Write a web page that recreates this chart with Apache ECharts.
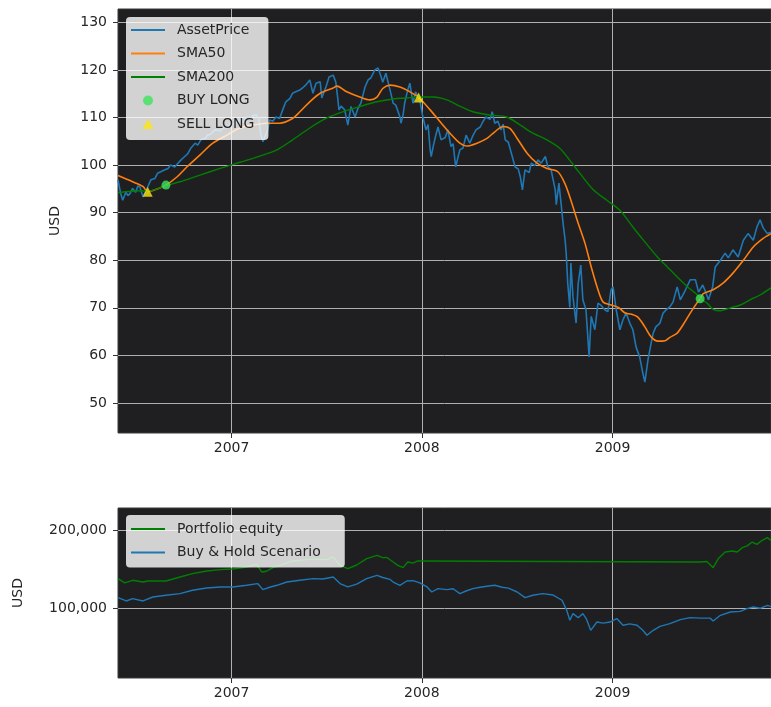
<!DOCTYPE html>
<html>
<head>
<meta charset="utf-8">
<script src="https://cdn.jsdelivr.net/npm/echarts@6/dist/echarts.min.js"></script>
<style>
  html, body { margin: 0; padding: 0; background: #ffffff; }
  #chart { width: 771px; height: 707px; }
</style>
</head>
<body>
<div id="chart"></div>
<script>
// Asset price (USD), sampled roughly weekly
const assetPrice = [
['2006-05-28',96.9],['2006-06-02',94.1],['2006-06-06',92.6],['2006-06-12',94.3],['2006-06-16',93.6],['2006-06-20',94.0],['2006-06-25',95.1],['2006-07-01',94.3],['2006-07-05',95.6],['2006-07-09',95.4],['2006-07-15',93.3],['2006-07-18',94.0],['2006-07-24',95.4],['2006-07-30',96.9],['2006-08-07',97.2],['2006-08-12',98.3],['2006-08-18',98.6],['2006-08-26',99.0],['2006-09-01',99.3],['2006-09-06',100.0],['2006-09-14',99.6],['2006-09-20',100.4],['2006-09-26',101.1],['2006-10-03',101.8],['2006-10-09',102.4],['2006-10-15',103.6],['2006-10-23',104.6],['2006-10-28',104.2],['2006-11-03',105.3],['2006-11-11',105.6],['2006-11-16',106.3],['2006-11-22',106.5],['2006-11-30',107.4],['2006-12-10',107.2],['2006-12-17',107.9],['2006-12-23',107.8],['2006-12-29',108.6],
['2007-01-07',108.8],['2007-01-17',109.5],['2007-01-24',109.0],['2007-01-30',110.1],['2007-02-07',110.0],['2007-02-12',110.5],['2007-02-18',110.5],['2007-02-22',109.8],['2007-02-26',106.5],['2007-03-02',104.9],['2007-03-06',106.0],['2007-03-11',107.3],['2007-03-15',109.5],['2007-03-21',109.2],['2007-03-27',110.1],['2007-04-03',109.8],['2007-04-09',111.6],['2007-04-15',113.3],['2007-04-23',114.0],['2007-04-28',115.1],['2007-05-04',115.4],['2007-05-12',115.8],['2007-05-17',116.2],['2007-05-23',116.8],['2007-05-31',117.9],['2007-06-06',115.1],['2007-06-12',117.2],['2007-06-20',117.5],['2007-06-23',114.1],['2007-07-01',116.4],['2007-07-07',118.5],['2007-07-15',118.9],['2007-07-20',117.4],['2007-07-24',113.7],['2007-07-26',111.6],['2007-07-30',112.4],['2007-08-06',111.6],['2007-08-12',108.4],['2007-08-18',112.3],['2007-08-26',110.1],['2007-08-31',111.8],['2007-09-06',113.0],['2007-09-14',116.4],['2007-09-20',117.9],['2007-09-25',118.3],['2007-10-03',120.0],['2007-10-09',120.4],['2007-10-15',118.5],['2007-10-18',117.4],['2007-10-24',119.3],['2007-11-01',115.8],['2007-11-07',113.0],['2007-11-12',112.6],['2007-11-20',110.1],['2007-11-22',108.8],['2007-11-26',110.5],['2007-11-29',113.0],['2007-12-05',115.8],['2007-12-09',117.2],['2007-12-15',113.0],['2007-12-20',115.4],['2007-12-24',114.6],['2007-12-28',113.7],
['2008-01-03',110.1],['2008-01-09',107.4],['2008-01-13',108.5],['2008-01-17',103.2],['2008-01-19',101.8],['2008-01-23',104.0],['2008-01-27',105.9],['2008-02-01',108.0],['2008-02-07',105.3],['2008-02-15',105.8],['2008-02-20',107.4],['2008-02-26',103.9],['2008-03-01',104.5],['2008-03-06',99.6],['2008-03-10',101.5],['2008-03-14',103.2],['2008-03-20',103.6],['2008-03-26',106.3],['2008-04-02',104.6],['2008-04-08',106.2],['2008-04-14',107.4],['2008-04-22',108.0],['2008-04-27',109.1],['2008-05-03',110.1],['2008-05-11',109.6],['2008-05-15',111.2],['2008-05-20',108.8],['2008-05-26',109.2],['2008-06-01',107.4],['2008-06-05',108.6],['2008-06-09',105.3],['2008-06-15',104.8],['2008-06-20',102.8],['2008-06-28',99.6],['2008-07-04',99.2],['2008-07-08',97.5],['2008-07-12',94.8],['2008-07-17',99.0],['2008-07-25',98.4],['2008-07-29',100.4],['2008-08-05',99.9],['2008-08-11',101.1],['2008-08-17',100.4],['2008-08-25',101.8],['2008-08-30',99.6],['2008-09-05',99.0],['2008-09-13',94.8],['2008-09-15',91.7],['2008-09-20',96.2],['2008-09-24',92.1],['2008-09-28',87.8],['2008-10-02',84.2],['2008-10-04',81.5],['2008-10-07',75.1],['2008-10-11',70.1],['2008-10-13',79.4],['2008-10-17',72.3],['2008-10-23',66.8],['2008-10-27',75.1],['2008-11-01',79.0],['2008-11-05',71.7],['2008-11-11',69.6],['2008-11-17',59.7],['2008-11-21',68.2],['2008-11-28',65.4],['2008-12-04',71.0],['2008-12-10',70.5],['2008-12-17',69.6],['2008-12-23',69.2],['2008-12-29',73.8],
['2009-01-02',74.4],['2009-01-08',69.6],['2009-01-15',65.4],['2009-01-21',67.5],['2009-01-27',68.9],['2009-02-03',66.8],['2009-02-09',65.4],['2009-02-15',61.8],['2009-02-22',59.7],['2009-02-28',56.3],['2009-03-04',54.4],['2009-03-10',59.1],['2009-03-16',62.6],['2009-03-20',64.7],['2009-03-25',66.0],['2009-04-02',66.8],['2009-04-08',68.9],['2009-04-14',69.6],['2009-04-21',70.2],['2009-04-27',71.2],['2009-05-05',74.4],['2009-05-11',71.7],['2009-05-21',73.8],['2009-05-30',75.9],['2009-06-09',75.9],['2009-06-15',73.3],['2009-06-23',74.8],['2009-06-28',73.5],['2009-07-04',71.7],['2009-07-12',74.4],['2009-07-17',78.6],['2009-07-27',80.0],['2009-08-05',81.5],['2009-08-11',80.5],['2009-08-20',82.2],['2009-08-30',80.7],['2009-09-09',84.2],['2009-09-18',85.6],['2009-09-28',84.2],['2009-10-05',87.0],['2009-10-11',88.5],['2009-10-17',86.8],['2009-10-25',85.6],['2009-11-01',85.9]
];

// 50-day simple moving average
const sma50 = [
['2006-05-28',97.8],['2006-06-25',96.5],['2006-07-15',95.5],['2006-07-24',94.4],['2006-08-16',95.2],['2006-08-28',95.8],['2006-09-18',97.5],['2006-10-07',99.6],['2006-11-01',102.1],['2006-11-26',104.6],['2006-12-23',106.3],
['2007-01-17',107.8],['2007-02-10',108.4],['2007-03-09',108.8],['2007-04-03',108.8],['2007-04-28',109.8],['2007-05-12',111.2],['2007-05-31',113.3],['2007-06-20',115.1],['2007-07-15',116.2],['2007-07-22',116.6],['2007-08-10',115.4],['2007-09-04',114.3],['2007-09-23',113.7],['2007-10-07',114.3],['2007-10-18',116.1],['2007-11-01',116.8],['2007-11-20',116.4],['2007-12-09',115.4],['2007-12-26',114.2],
['2008-01-17',111.6],['2008-02-05',109.1],['2008-02-24',106.7],['2008-03-14',104.6],['2008-03-27',104.0],['2008-04-16',104.6],['2008-05-05',105.6],['2008-05-20',107.0],['2008-06-05',108.1],['2008-06-18',107.7],['2008-07-02',105.6],['2008-07-21',102.5],['2008-08-09',100.4],['2008-08-28',99.3],['2008-09-18',98.6],['2008-10-02',96.0],['2008-10-13',92.6],['2008-10-27',87.8],['2008-11-09',83.6],['2008-11-21',78.6],['2008-12-04',73.8],['2008-12-14',71.2],['2008-12-29',70.6],
['2009-01-12',70.1],['2009-01-25',68.9],['2009-02-05',68.7],['2009-02-18',68.1],['2009-03-04',66.0],['2009-03-16',63.9],['2009-03-29',63.0],['2009-04-12',63.1],['2009-04-21',63.8],['2009-05-05',64.7],['2009-05-16',66.4],['2009-05-30',68.9],['2009-06-13',71.2],['2009-06-18',71.9],['2009-06-24',73.0],['2009-07-13',73.8],['2009-08-01',75.2],['2009-08-20',77.3],['2009-09-09',80.0],['2009-09-28',82.8],['2009-10-17',84.6],['2009-11-01',85.6]
];

// 200-day simple moving average
const sma200 = [
['2006-05-28',94.2],['2006-07-09',94.6],['2006-07-24',94.5],['2006-08-28',95.7],['2006-09-24',96.5],['2006-11-01',97.9],['2006-12-10',99.3],
['2007-01-17',100.6],['2007-02-24',101.9],['2007-03-29',103.2],['2007-04-28',105.3],['2007-05-31',107.8],['2007-07-03',109.9],['2007-08-02',111.2],['2007-09-04',112.3],['2007-10-07',113.3],['2007-11-07',113.9],['2007-12-03',114.1],['2007-12-26',114.3],
['2008-01-23',114.3],['2008-02-18',113.7],['2008-03-14',112.4],['2008-04-08',111.2],['2008-05-11',110.5],['2008-06-12',110.1],['2008-07-08',108.4],['2008-08-01',106.7],['2008-08-28',105.3],['2008-09-22',103.5],['2008-10-11',101.0],['2008-10-30',98.3],['2008-11-25',94.8],['2008-12-21',92.6],
['2009-01-15',90.5],['2009-02-09',87.0],['2009-02-28',84.4],['2009-03-28',80.7],['2009-04-16',78.6],['2009-05-05',76.5],['2009-05-25',74.4],['2009-06-13',72.7],['2009-06-18',72.0],['2009-07-01',71.0],['2009-07-13',69.7],['2009-07-27',69.4],['2009-08-15',70.0],['2009-09-03',70.6],['2009-09-22',71.7],['2009-10-11',72.7],['2009-11-01',74.2]
];

// Crossover signals
const buyLong = [['2006-08-28',95.8],['2009-06-18',71.9]];
const sellLong = [['2006-07-24',94.4],['2007-12-26',114.2]];

// Strategy equity and buy-and-hold value (USD)
const portfolioEquity = [
['2006-05-28',138100],['2006-06-10',132500],['2006-06-25',135900],['2006-07-15',133700],['2006-07-24',135000],['2006-08-28',135000],['2006-09-24',140100],['2006-10-18',144400],['2006-11-14',147800],['2006-12-10',149600],
['2007-01-03',150400],['2007-01-30',152900],['2007-02-18',156400],['2007-02-28',146500],['2007-03-09',147500],['2007-03-21',152100],['2007-04-09',156400],['2007-04-28',160700],['2007-05-25',162400],['2007-06-13',163000],['2007-07-03',162400],['2007-07-15',165800],['2007-07-28',155100],['2007-08-12',150800],['2007-08-29',155500],['2007-09-17',163700],['2007-10-07',167900],['2007-10-18',165000],['2007-10-26',165200],['2007-11-07',159400],['2007-11-16',155100],['2007-11-26',152100],['2007-12-05',159400],['2007-12-15',158000],['2007-12-24',160700],['2007-12-26',159400],
['2009-06-18',159400],['2009-07-01',160000],['2009-07-13',152100],['2009-07-23',163700],['2009-08-05',172200],['2009-08-19',173500],['2009-08-28',172200],['2009-09-07',177800],['2009-09-16',180000],['2009-09-26',185000],['2009-10-05',182000],['2009-10-15',187200],['2009-10-25',190600],['2009-11-01',187000]
];

const buyHold = [
['2006-05-28',113700],['2006-06-13',109400],['2006-06-25',112400],['2006-07-15',109400],['2006-08-03',114500],['2006-08-28',116700],['2006-09-24',118800],['2006-10-18',123100],['2006-11-14',126000],['2006-12-10',127400],
['2007-01-03',127400],['2007-01-30',129500],['2007-02-20',131700],['2007-03-02',124000],['2007-03-15',127000],['2007-03-29',129500],['2007-04-17',133700],['2007-05-12',135900],['2007-06-06',138100],['2007-06-25',137500],['2007-07-15',140100],['2007-07-28',131700],['2007-08-12',127400],['2007-08-29',131000],['2007-09-17',138100],['2007-10-07',142300],['2007-10-18',139500],['2007-11-01',137000],['2007-11-07',133700],['2007-11-20',129500],['2007-12-03',135000],['2007-12-15',135500],['2007-12-28',132500],
['2008-01-11',127400],['2008-01-20',120900],['2008-02-01',125200],['2008-02-18',124000],['2008-03-01',125000],['2008-03-14',118800],['2008-03-27',122500],['2008-04-08',125200],['2008-04-22',127000],['2008-05-05',128200],['2008-05-20',129500],['2008-06-03',127000],['2008-06-15',125800],['2008-07-02',120900],['2008-07-17',113700],['2008-08-01',116700],['2008-08-20',118800],['2008-09-09',117000],['2008-09-26',110300],['2008-10-05',97400],['2008-10-11',84600],['2008-10-17',93200],['2008-10-27',88000],['2008-11-05',93200],['2008-11-12',86000],['2008-11-20',71800],['2008-12-02',82400],['2008-12-14',81000],['2008-12-27',82400],
['2009-01-09',86800],['2009-01-21',78200],['2009-02-03',80000],['2009-02-17',78200],['2009-02-28',71800],['2009-03-08',65400],['2009-03-20',71800],['2009-04-02',76900],['2009-04-21',80400],['2009-05-11',85500],['2009-05-30',88100],['2009-06-18',87400],['2009-07-07',87400],['2009-07-13',83700],['2009-07-27',91000],['2009-08-15',95300],['2009-09-03',96000],['2009-09-16',99600],['2009-09-28',101700],['2009-10-11',100000],['2009-10-25',103800],['2009-11-01',102500]
];

// Axis ticks
const yearTicks = ['2007-01-01', '2008-01-01', '2009-01-01'];
const priceTicks = [50, 60, 70, 80, 90, 100, 110, 120, 130];
const equityTicks = [100000, 200000];

const FONT = 'DejaVu Sans';
const TEXT = '#262626';
const GRIDLINE = '#b0b0b0';
const toTime = s => echarts.time.parse(s).getTime();
const withTime = rows => rows.map(([d, v]) => [toTime(d), v]);
const yearTickValues = yearTicks.map(toTime);
const xStart = toTime('2006-05-28');
const xEnd = toTime('2009-11-01');
const lineIcon = 'path://M0,0H34V2H0Z';
const triangleIcon = 'path://M5,0L10,8.7L0,8.7Z';

// Dates are placed on a value axis (milliseconds) so ticks can sit exactly on Jan 1
function dateAxis(gridIndex) {
  return {
    type: 'value', gridIndex, min: xStart, max: xEnd,
    axisLine: { show: false },
    axisTick: { show: true, customValues: yearTickValues, length: 5, lineStyle: { color: '#333', width: 1 } },
    axisLabel: {
      customValues: yearTickValues, margin: 8, fontFamily: FONT, fontSize: 14, color: TEXT,
      formatter: v => String(new Date(v).getFullYear())
    },
    splitLine: { show: false }
  };
}

function valueAxis(gridIndex, min, max, ticks, nameGap, fmt) {
  return {
    type: 'value', gridIndex, min, max,
    name: 'USD', nameLocation: 'middle', nameGap,
    nameTextStyle: { fontFamily: FONT, fontSize: 14, color: TEXT },
    axisLine: { show: false },
    axisTick: { show: true, customValues: ticks, length: 5, lineStyle: { color: '#333', width: 1 } },
    axisLabel: { customValues: ticks, margin: 11, fontFamily: FONT, fontSize: 14, color: TEXT, formatter: fmt },
    splitLine: { show: false }
  };
}

// Grid lines drawn as mark lines at exactly the tick values, beneath the data and legend
function gridLines(xAxisIndex, yAxisIndex, yTicks) {
  return {
    type: 'line', xAxisIndex, yAxisIndex, data: [], z: 1, silent: true,
    markLine: {
      silent: true, z: 1, symbol: 'none', animation: false, label: { show: false },
      lineStyle: { color: GRIDLINE, width: 1, type: 'solid' },
      emphasis: { disabled: true },
      data: yearTickValues.map(t => ({ xAxis: t })).concat(yTicks.map(v => ({ yAxis: v })))
    }
  };
}

const legendBase = {
  orient: 'vertical', left: 126, itemWidth: 34, itemHeight: 10, itemGap: 9.5, z: 10,
  backgroundColor: 'rgba(255,255,255,0.8)', borderRadius: 4, selectedMode: false,
  textStyle: { fontFamily: FONT, fontSize: 14, color: TEXT, padding: [0, 0, 0, 7] }
};

const chart = echarts.init(document.getElementById('chart'), null, { renderer: 'canvas' });
chart.setOption({
  animation: false,
  backgroundColor: '#ffffff',
  grid: [
    { left: 118, top: 9, width: 653, height: 424, show: true, backgroundColor: '#1f1f21', borderColor: '#3a3a3a', borderWidth: 1 },
    { left: 118, top: 508, width: 653, height: 170, show: true, backgroundColor: '#1f1f21', borderColor: '#3a3a3a', borderWidth: 1 }
  ],
  xAxis: [dateAxis(0), dateAxis(1)],
  yAxis: [
    valueAxis(0, 43.7, 132.8, priceTicks, 56, v => String(v)),
    valueAxis(1, 10640, 228600, equityTicks, 93, v => v.toLocaleString('en-US'))
  ],
  legend: [
    Object.assign({}, legendBase, {
      top: 17, padding: [6, 14, 9, 5],
      data: [
        { name: 'AssetPrice', icon: lineIcon },
        { name: 'SMA50', icon: lineIcon },
        { name: 'SMA200', icon: lineIcon },
        { name: 'BUY LONG', icon: 'circle' },
        { name: 'SELL LONG', icon: triangleIcon }
      ]
    }),
    Object.assign({}, legendBase, {
      top: 515, padding: [7, 24, 8, 5],
      data: [
        { name: 'Portfolio equity', icon: lineIcon },
        { name: 'Buy & Hold Scenario', icon: lineIcon }
      ]
    })
  ],
  series: [
    gridLines(0, 0, priceTicks),
    gridLines(1, 1, equityTicks),
    { name: 'AssetPrice', type: 'line', xAxisIndex: 0, yAxisIndex: 0, data: withTime(assetPrice), showSymbol: false,
      color: '#1f77b4', lineStyle: { width: 1.6, color: '#1f77b4' }, z: 2 },
    { name: 'SMA50', type: 'line', xAxisIndex: 0, yAxisIndex: 0, data: withTime(sma50), showSymbol: false, smooth: 0.3,
      color: '#ff7f0e', lineStyle: { width: 1.6, color: '#ff7f0e' }, z: 3 },
    { name: 'SMA200', type: 'line', xAxisIndex: 0, yAxisIndex: 0, data: withTime(sma200), showSymbol: false, smooth: 0.3,
      color: '#008000', lineStyle: { width: 1.4, color: '#008000' }, z: 3 },
    { name: 'BUY LONG', type: 'scatter', xAxisIndex: 0, yAxisIndex: 0, data: withTime(buyLong), symbol: 'circle', symbolSize: 9,
      color: '#3ee35c', itemStyle: { color: '#3ee35c' }, z: 5 },
    { name: 'SELL LONG', type: 'scatter', xAxisIndex: 0, yAxisIndex: 0, data: withTime(sellLong), symbol: 'triangle', symbolSize: 10,
      color: '#ffe50f', itemStyle: { color: '#ffe50f' }, z: 5 },
    { name: 'Portfolio equity', type: 'line', xAxisIndex: 1, yAxisIndex: 1, data: withTime(portfolioEquity), showSymbol: false,
      color: '#008000', lineStyle: { width: 1.4, color: '#008000' }, z: 3 },
    { name: 'Buy & Hold Scenario', type: 'line', xAxisIndex: 1, yAxisIndex: 1, data: withTime(buyHold), showSymbol: false,
      color: '#1f77b4', lineStyle: { width: 1.4, color: '#1f77b4' }, z: 3 }
  ]
});
</script>
</body>
</html>
